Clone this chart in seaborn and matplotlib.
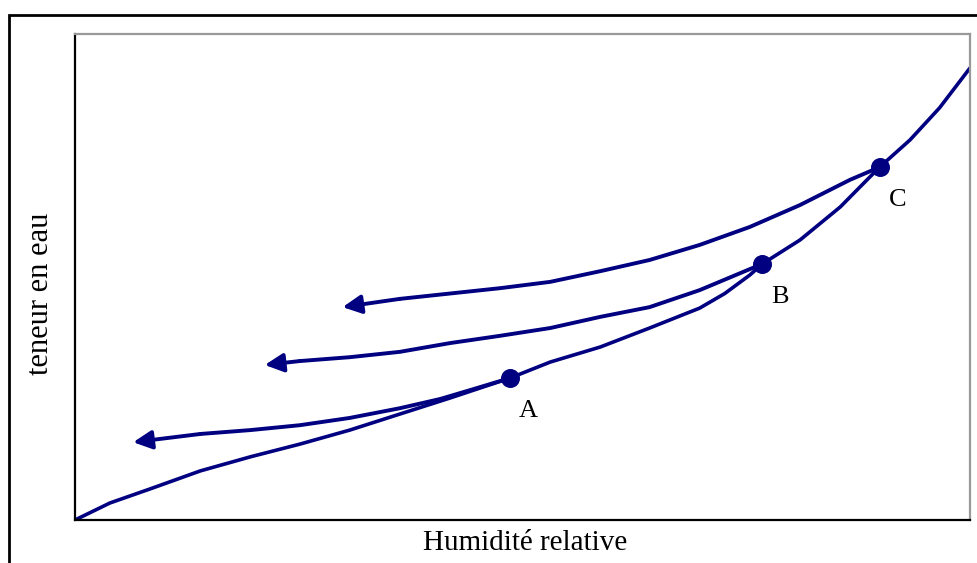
import matplotlib.pyplot as plt
from matplotlib.patches import Rectangle
import seaborn as sns

# courbe d'adsorption (humidité relative, teneur en eau), unités arbitraires 0-100
hr_adsorption = [0, 3.9, 8.4, 14.0, 19.6, 25.1, 30.7, 36.3, 41.9, 48.6, 53.1, 58.7,
                 64.2, 69.8, 72.6, 75.4, 76.8, 81.0, 85.5, 89.9, 93.3, 96.6, 100]
te_adsorption = [0, 3.5, 6.4, 10.1, 13.0, 15.6, 18.5, 21.8, 25.1, 29.2, 32.5, 35.6,
                 39.5, 43.6, 46.6, 50.4, 52.7, 57.6, 64.4, 72.6, 78.2, 84.8, 93.0]

# désorption depuis A, B et C
hr_desorp_A = [48.6, 44.1, 40.8, 36.3, 30.7, 25.1, 19.6, 14.0, 6.5]
te_desorp_A = [29.2, 26.7, 24.9, 23.0, 21.0, 19.5, 18.5, 17.7, 16.0]

hr_desorp_B = [76.8, 69.8, 64.2, 58.7, 53.1, 47.5, 41.9, 36.3, 30.7, 25.1, 21.2]
te_desorp_B = [52.7, 47.3, 43.8, 41.8, 39.5, 37.9, 36.4, 34.6, 33.5, 32.7, 31.9]

hr_desorp_C = [89.9, 86.6, 81.0, 75.4, 69.8, 64.2, 58.7, 53.1, 47.5, 41.9, 36.3, 29.9]
te_desorp_C = [72.6, 70.0, 64.8, 60.3, 56.6, 53.5, 51.2, 49.0, 47.7, 46.6, 45.5, 43.8]

points_noms = ["A", "B", "C"]
points_hr = [48.6, 76.8, 89.9]
points_te = [29.2, 52.7, 72.6]

sns.set_style("white")
plt.rcParams["font.family"] = ["Liberation Serif", "DejaVu Serif"]
plt.rcParams["text.color"] = "black"
plt.rcParams["axes.labelcolor"] = "black"

bleu = "#000080"

fig = plt.figure(figsize=(9.77, 5.63), dpi=100)
ax = fig.add_axes([0.0768, 0.0764, 0.916, 0.8632])

sns.lineplot(x=hr_adsorption, y=te_adsorption, sort=False, color=bleu, lw=2.6, ax=ax)
for hr, te in [(hr_desorp_A, te_desorp_A), (hr_desorp_B, te_desorp_B), (hr_desorp_C, te_desorp_C)]:
    sns.lineplot(x=hr[:-1], y=te[:-1], sort=False, color=bleu, lw=2.8, ax=ax)
    # pointe de flèche
    ax.annotate("", xy=(hr[-1], te[-1]), xytext=(hr[-2], te[-2]),
                arrowprops=dict(arrowstyle="-|>", color=bleu, lw=2.8,
                                mutation_scale=28, shrinkA=0, shrinkB=0))

sns.scatterplot(x=points_hr, y=points_te, color=bleu, s=160, edgecolor=bleu, zorder=5, ax=ax)
for nom, hr, te in zip(points_noms, points_hr, points_te):
    ax.text(hr + 2.0, te - 6.8, nom, fontsize=19, ha="center", va="center")

ax.set_xlim(0, 100)
ax.set_ylim(0, 100)
ax.set_xticks([])
ax.set_yticks([])
ax.set_xlabel("Humidité relative", fontsize=21)
ax.set_ylabel("teneur en eau", fontsize=22)
ax.xaxis.set_label_coords(0.503, -0.047)
ax.yaxis.set_label_coords(-0.039, 0.465)
ax.xaxis.label.set_va("center")
ax.yaxis.label.set_va("center")

for cote in ["left", "bottom"]:
    ax.spines[cote].set_color("black")
    ax.spines[cote].set_linewidth(1.6)
for cote in ["top", "right"]:
    ax.spines[cote].set_color("#999999")
    ax.spines[cote].set_linewidth(1.6)

# cadre extérieur
fig.add_artist(Rectangle((0.0097, -0.2), 1.2, 0.9734 + 0.2, transform=fig.transFigure,
                         fill=False, edgecolor="black", lw=2))

fig.savefig("out.png", dpi=100)
